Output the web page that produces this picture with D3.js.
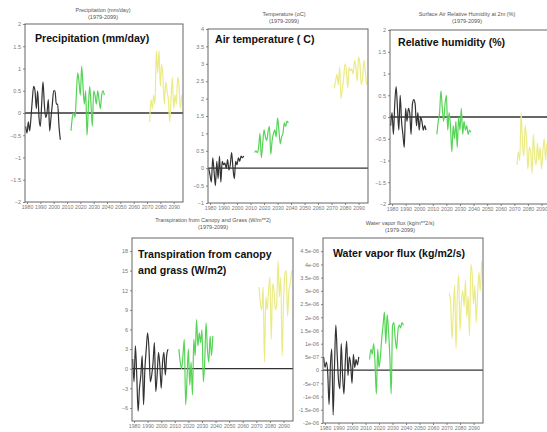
<!DOCTYPE html>
<html>
<head>
<meta charset="utf-8">
<script src="https://cdn.jsdelivr.net/npm/d3@7"></script>
<style>
  body { margin: 0; background: #fff; }
  svg { display: block; }
  .tick text { fill: #777; }
</style>
</head>
<body>
<svg id="chart" width="547" height="432"></svg>
<script>
// year spans of the three runs (annual points)
var histStart = 1979, midStart = 2013, farStart = 2072;
var xTicks = [1980, 1990, 2000, 2010, 2020, 2030, 2040, 2050, 2060, 2070, 2080, 2090];

// precipitation anomaly (mm/day)
var precipHist = [-0.3,-0.45,-0.2,-0.4,-0.1,0.3,0.6,0.5,0.1,0.5,-0.1,-0.3,0.2,0.7,0.2,-0.1,0.0,0.3,-0.4,-0.1,0.2,0.5,0.5,0.2,0.2,-0.3,-0.6];
var precipMid  = [-0.4,-0.1,0.0,-0.1,0.4,0.9,0.7,0.4,1.05,0.6,0.2,0.5,-0.5,0.1,0.6,0.2,-0.3,0.5,0.4,0.2,0.5,0.3,0.1,0.4,0.5,0.4];
var precipFar  = [-0.2,0.3,0.1,0.4,0.2,1.4,0.9,1.4,0.6,1.1,0.8,0.2,0.7,0.5,0.3,-0.2,0.3,0.8,0.1,0.4,0.2,0.8,0.6,0.1,0.4];

// air temperature anomaly (C)
var tempHist = [0.0,-0.2,-0.4,0.3,-0.1,-0.5,0.2,-0.3,0.35,-0.4,0.2,0.1,0.15,0.0,0.25,-0.05,0.1,0.45,0.0,-0.3,0.2,0.1,0.3,0.2,0.35,0.3,0.35];
var tempMid  = [0.45,0.5,0.45,0.6,1.0,0.3,0.7,1.1,0.9,0.8,1.05,1.2,0.4,0.8,1.0,1.1,0.9,1.45,1.1,0.7,0.9,1.0,1.3,1.2,1.35,1.3];
var tempFar  = [2.3,2.5,2.7,2.4,2.9,2.0,2.3,2.6,3.0,2.8,2.3,2.9,2.8,2.85,2.7,3.1,2.9,2.5,3.2,3.0,2.4,2.6,3.1,2.8,2.4];

// relative humidity anomaly (%)
var rhHist = [-0.2,0.1,-0.4,0.3,0.7,0.2,-0.3,0.5,-0.1,-0.4,-0.7,0.2,-0.1,0.2,0.1,-0.4,0.3,0.4,0.3,-0.2,0.1,-0.3,0.0,-0.1,-0.3,-0.2,-0.3];
var rhMid  = [-0.4,-0.1,0.1,0.6,0.2,-0.1,0.3,0.5,-0.3,0.1,-0.2,-0.8,-0.2,-0.5,-0.1,-0.7,0.0,-0.3,0.2,-0.4,-0.1,-0.3,-0.2,-0.4,-0.3,-0.35];
var rhFar  = [-1.1,-0.8,-1.0,0.1,-0.6,-0.9,-0.2,-0.5,-1.2,-0.7,-0.8,-1.3,-0.4,-0.9,-1.1,-0.6,-1.0,-0.7,-1.2,-0.8,-0.5,-1.0,-0.6,-0.9,-1.1];

// transpiration anomaly (W/m2)
var transHist = [1.5,-2,3.5,-1,-6.5,-3,-1,2,-5.5,0,3,5.5,3,-2,-1,1,4,-3.5,-1,2.5,0.5,-3,1,2.5,-1,2,3];
var transMid  = [3,1,0,2,4.5,-5.5,-1.5,3,-2.5,1,-4,4.5,2,7.5,3.5,5.5,4,6,-2,1,7,3,1,5,2,5];
var transFar  = [12.5,10,9,12.5,1,11,9,12,14,4.5,13,12,9,10,16.5,11,14,2,10,14.5,15,8,12,13,15];

// water vapor flux anomaly (1e-6 kg/m2/s)
var fluxHist = [0.5,0.1,0.3,-0.1,-1.3,0.2,0.8,-1.7,0.1,1.7,0.6,-0.4,-0.7,1.0,-0.2,-0.9,0.3,1.1,-0.2,0.5,0.2,-0.5,0.6,0.1,0.4,0.2,0.5];
var fluxMid  = [0.4,0.8,0.6,1.0,0.3,-0.9,0.8,0.1,0.5,1.2,1.7,2.2,1.0,2.1,1.5,0.5,-0.9,1.7,1.8,1.2,0.8,1.5,1.7,1.6,1.8,1.7];
var fluxFar  = [2.9,2.6,1.2,2.2,3.2,0.8,2.8,3.6,1.5,2.6,3.0,2.4,3.4,2.0,2.8,1.3,4.0,3.6,2.5,3.2,1.8,2.9,3.7,3.0,4.1];

var runColors = ["#333333", "#55d455", "#ebeb86"];

var svg = d3.select("#chart");

function sciFmt(v) {
    if (Math.abs(v) < 1e-12) return "0";
    var s = v.toExponential().split("e");
    var e = +s[1];
    var sign = e < 0 ? "-" : "+";
    e = Math.abs(e);
    return s[0] + "e" + sign + (e < 10 ? "0" + e : e);
}

function drawPanel(p) {
    var x = d3.scaleLinear().domain([1978.5, 2097]).range([p.x0, p.x1]);
    var y = d3.scaleLinear().domain(p.yDomain).range([p.y1, p.y0]);
    var g = svg.append("g");

    // small title above the frame
    g.append("text")
        .attr("x", p.tx).attr("y", p.ty)
        .attr("text-anchor", "middle")
        .attr("font-family", "Liberation Sans, Arial, sans-serif")
        .attr("font-size", 5.5).attr("fill", "#555")
        .text(p.smallTitle);
    g.append("text")
        .attr("x", p.tx).attr("y", p.ty + 6.5)
        .attr("text-anchor", "middle")
        .attr("font-family", "Liberation Sans, Arial, sans-serif")
        .attr("font-size", 5.5).attr("fill", "#555")
        .text("(1979-2099)");

    // axes
    var yAxis = d3.axisLeft(y).tickValues(p.yTicks).tickSize(2).tickPadding(2)
        .tickFormat(p.fmt || function(d) { return d3.format("~g")(d); });
    g.append("g").attr("transform", "translate(" + p.x0 + ",0)").call(yAxis)
        .call(function(a) {
            a.select(".domain").remove();
            a.selectAll("line").attr("stroke", "#888");
            a.selectAll("text").attr("font-size", 5.5).attr("font-family", "Liberation Sans, Arial, sans-serif");
        });
    var xAxis = d3.axisBottom(x).tickValues(xTicks).tickSize(2).tickPadding(1).tickFormat(d3.format("d"));
    g.append("g").attr("transform", "translate(0," + p.y1 + ")").call(xAxis)
        .call(function(a) {
            a.select(".domain").remove();
            a.selectAll("line").attr("stroke", "#888");
            a.selectAll("text").attr("font-size", 5.2).attr("font-family", "Liberation Sans, Arial, sans-serif");
        });

    // zero line
    g.append("line")
        .attr("x1", p.x0).attr("x2", p.x1)
        .attr("y1", y(0)).attr("y2", y(0))
        .attr("stroke", "#333").attr("stroke-width", 1.3);

    // the three runs
    var line = d3.line()
        .x(function(d) { return x(d.year); })
        .y(function(d) { return y(d.v); })
        .curve(d3.curveMonotoneX);
    var starts = [histStart, midStart, farStart];
    p.series.forEach(function(s, i) {
        var pts = s.map(function(v, j) { return { year: starts[i] + j, v: v * (p.scale || 1) }; });
        g.append("path").datum(pts)
            .attr("d", line)
            .attr("fill", "none")
            .attr("stroke", runColors[i])
            .attr("stroke-width", 1.2)
            .attr("stroke-linejoin", "round")
            .attr("clip-path", "url(#clip" + p.id + ")");
    });

    svg.append("clipPath").attr("id", "clip" + p.id)
        .append("rect").attr("x", p.x0).attr("y", p.y0)
        .attr("width", p.x1 - p.x0).attr("height", p.y1 - p.y0);

    // frame
    g.append("rect")
        .attr("x", p.x0).attr("y", p.y0)
        .attr("width", p.x1 - p.x0).attr("height", p.y1 - p.y0)
        .attr("fill", "none").attr("stroke", "#666").attr("stroke-width", 1);

    // big label
    var lbl = g.append("text")
        .attr("font-family", "Liberation Sans, Arial, sans-serif")
        .attr("font-weight", "bold").attr("font-size", 10.6).attr("fill", "#111");
    p.label.forEach(function(t, i) {
        lbl.append("tspan").attr("x", p.lx).attr("y", p.ly + i * 16).text(t);
    });
}

var panels = [
    { id: 1, x0: 25, x1: 183, y0: 24, y1: 202, yDomain: [-2, 2],
      yTicks: [-2,-1.5,-1,-0.5,0,0.5,1,1.5,2],
      tx: 103, ty: 12, smallTitle: "Precipitation (mm/day)",
      label: ["Precipitation (mm/day)"], lx: 35, ly: 42,
      series: [precipHist, precipMid, precipFar] },
    { id: 2, x0: 208, x1: 368, y0: 29, y1: 203, yDomain: [-1, 4],
      yTicks: [-1,-0.5,0,0.5,1,1.5,2,2.5,3,3.5,4],
      tx: 284, ty: 16, smallTitle: "Temperature (oC)",
      label: ["Air temperature ( C)"], lx: 215, ly: 43,
      series: [tempHist, tempMid, tempFar] },
    { id: 3, x0: 390, x1: 551, y0: 30, y1: 204, yDomain: [-2, 2],
      yTicks: [-2,-1.5,-1,-0.5,0,0.5,1,1.5,2],
      tx: 467, ty: 16, smallTitle: "Surface Air Relative Humidity at 2m (%)",
      label: ["Relative humidity (%)"], lx: 398, ly: 46,
      series: [rhHist, rhMid, rhFar] },
    { id: 4, x0: 132, x1: 293, y0: 238, y1: 421, yDomain: [-8, 20],
      yTicks: [-6,-3,0,3,6,9,12,15,18],
      tx: 213, ty: 222, smallTitle: "Transpiration from Canopy and Grass (W/m**2)",
      label: ["Transpiration from canopy", "and grass (W/m2)"], lx: 138, ly: 258,
      series: [transHist, transMid, transFar] },
    { id: 5, x0: 323, x1: 483, y0: 238, y1: 423, yDomain: [-2e-6, 5e-6],
      yTicks: [-2e-6,-1.5e-6,-1e-6,-5e-7,0,5e-7,1e-6,1.5e-6,2e-6,2.5e-6,3e-6,3.5e-6,4e-6,4.5e-6],
      fmt: sciFmt, scale: 1e-6,
      tx: 400, ty: 225, smallTitle: "Water vapor flux (kg/m**2/s)",
      label: ["Water vapor flux (kg/m2/s)"], lx: 333, ly: 257,
      series: [fluxHist, fluxMid, fluxFar] }
];

panels.forEach(drawPanel);
</script>
</body>
</html>
